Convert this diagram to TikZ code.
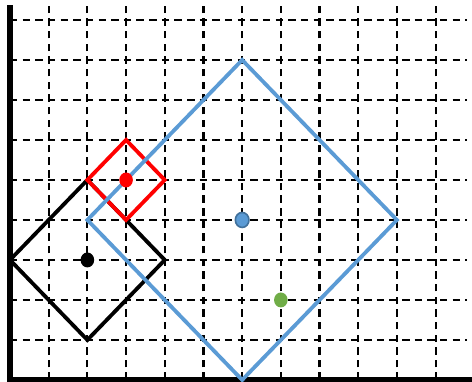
\documentclass[tikz,border=0pt]{standalone}
\usepackage{tikz}
\usetikzlibrary{calc, shapes.geometric}
\definecolor{lineblue}{RGB}{91,155,213}
\definecolor{darkblue}{RGB}{65,113,156}
\definecolor{dotgreen}{RGB}{112,173,71}
\begin{document}
\begin{tikzpicture}[x=1cm, y=1.0336cm,
    gridline/.style={line width=1.6pt, dash pattern=on 5.5pt off 3.8pt},
    axisline/.style={line width=3.8pt},
    square/.style={line width=2.8pt, line join=miter},
    pt/.style={ellipse, minimum width=10pt, minimum height=11pt, inner sep=0pt}]
        \useasboundingbox (-0.258,-0.05) rectangle (11.94,9.5);

        % Gitter
        \foreach \i in {1,...,11}
            \draw[gridline] (\i,0) -- (\i,9.37);
        \foreach \j in {1,...,9}
            \draw[gridline] (0,\j) -- (11.8,\j);

        % Achsen
        \draw[axisline] (0,9.37) -- (0,0) -- (11.94,0);

        % Quadrate (auf der Spitze)
        \draw[square, black] (0,3) -- (2,5) -- (4,3) -- (2,1) -- cycle;
        \draw[square, red] (2,5) -- (3,6) -- (4,5) -- (3,4) -- cycle;
        \draw[square, lineblue] (2,4) -- (6,8) -- (10,4) -- (6,0) -- cycle;

        % Mittelpunkte
        \node[pt, fill=black] (cblack) at (2,3) {};
        \node[pt, fill=red] (cred) at (3,5) {};
        \node[pt, fill=lineblue, draw=darkblue, line width=1.2pt] (cblue) at (6,4) {};
        \node[pt, fill=dotgreen] (cgreen) at (7,2) {};
\end{tikzpicture}
\end{document}
